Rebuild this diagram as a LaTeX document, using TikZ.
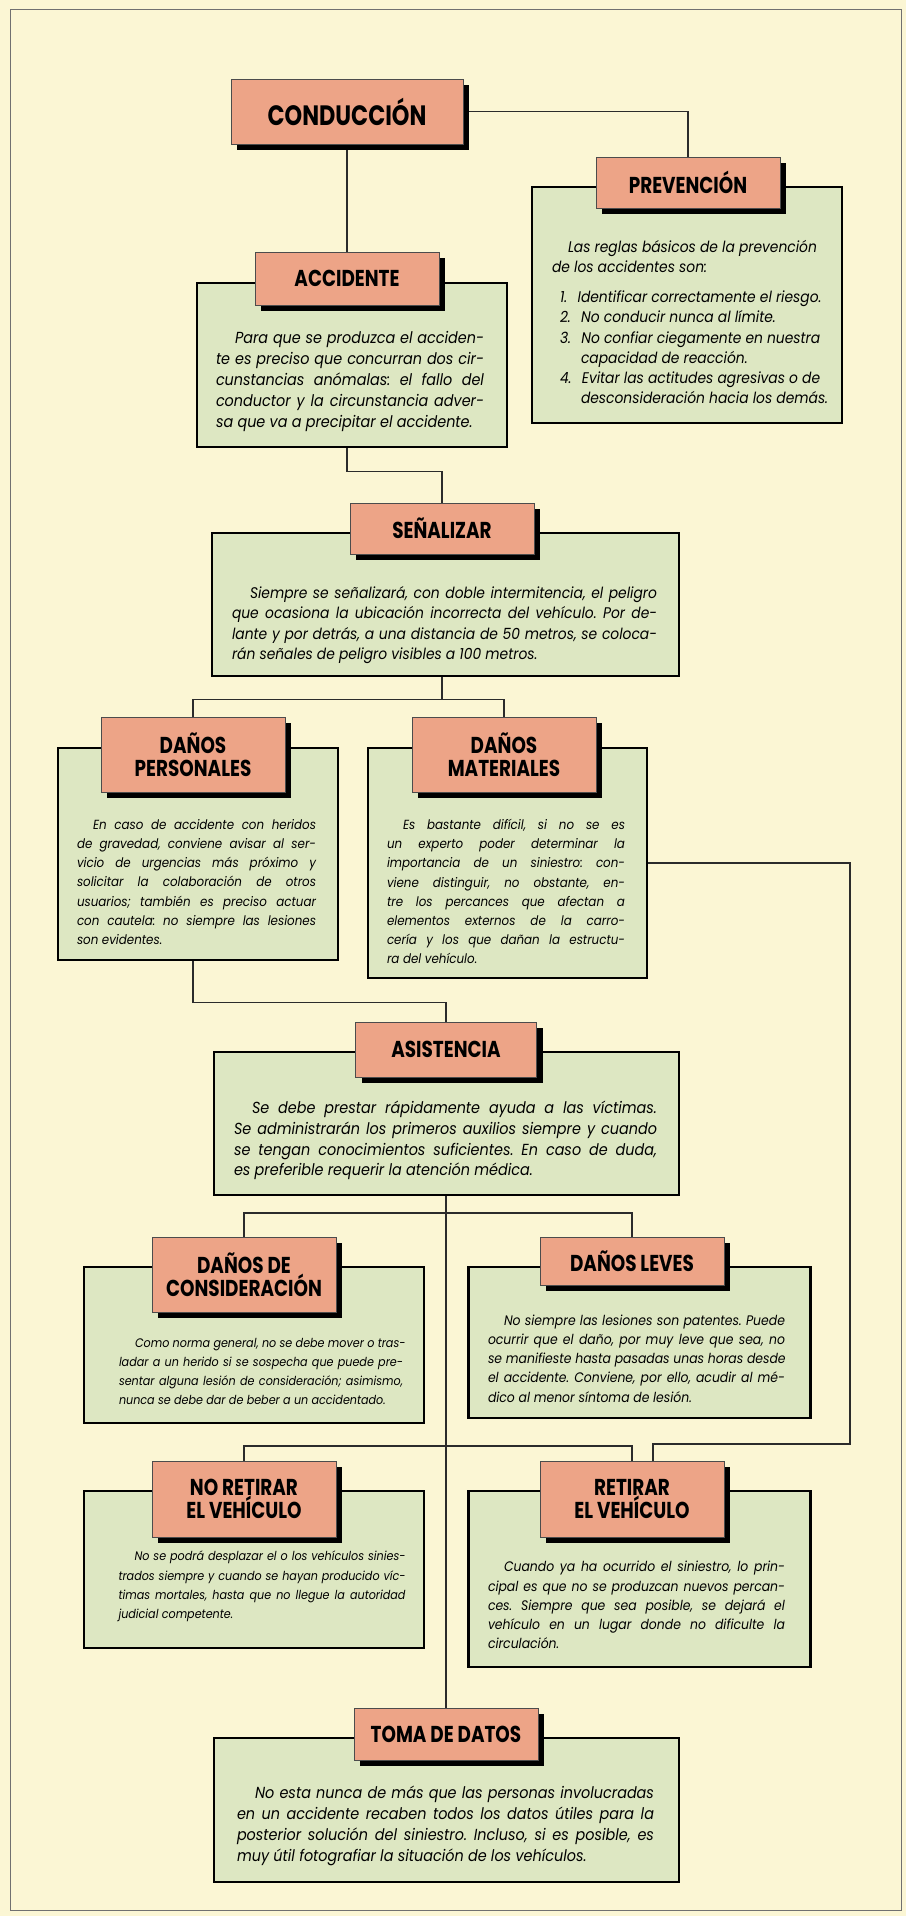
\documentclass[tikz,border=0pt]{standalone}
\usepackage{fontspec}
\usepackage{tikz}
\usetikzlibrary{positioning,shadows,calc}
\newfontfamily\headfont{Poppins}[FakeStretch=0.80]
\newfontfamily\bodyfont{Poppins}[FakeStretch=0.90]
\definecolor{pagecream}{HTML}{FBF6D4}
\definecolor{boxsalmon}{HTML}{EDA487}
\definecolor{panelgreen}{HTML}{DDE7C2}
\definecolor{framegray}{HTML}{707070}
\definecolor{linkgray}{HTML}{2B2B2B}
\pgfdeclarelayer{paper}
\pgfdeclarelayer{wires}
\pgfsetlayers{paper,wires,main}
% one justified line (jline) and one last line (lline) of a panel text
\ExplSyntaxOn
\seq_new:N \l__pan_words_seq
\NewDocumentCommand{\jline}{m}
  {
    \seq_set_split:Nnn \l__pan_words_seq { ~ } {#1}
    \makebox[\hsize][s]{ \seq_use:Nn \l__pan_words_seq { \char32\relax \hskip 0pt plus 1fil\relax } } \\
  }
\NewDocumentCommand{\lline}{m}
  {
    \seq_set_split:Nnn \l__pan_words_seq { ~ } {#1}
    \mbox{ \seq_use:Nn \l__pan_words_seq { \char32\relax } }
  }
\ExplSyntaxOff

\begin{document}
\begin{tikzpicture}[x=1pt, y=-1pt,
  head/.style={draw=black!70, line width=0.6pt, fill=boxsalmon, align=center,
    font=\headfont\bfseries\fontsize{23}{23}\selectfont, inner sep=2pt,
    minimum width=184pt, minimum height=51pt,
    drop shadow={shadow xshift=6pt, shadow yshift=-6pt, fill=black, opacity=1}},
  panel/.style={draw=black, line width=2.4pt, fill=panelgreen, inner sep=0pt},
  bodyL/.style={font=\bodyfont\itshape\frenchspacing\fontsize{16}{20.8}\selectfont, align=left, inner sep=0pt},
  bodyW/.style={bodyL, font=\bodyfont\itshape\frenchspacing\fontsize{15.4}{20.2}\selectfont},
  bodyM/.style={bodyL, font=\bodyfont\itshape\frenchspacing\fontsize{13.8}{19.2}\selectfont},
  bodyS/.style={bodyL, font=\bodyfont\itshape\frenchspacing\fontsize{13.2}{19.2}\selectfont},
  bodyT/.style={bodyL, font=\bodyfont\itshape\frenchspacing\fontsize{12.4}{19.2}\selectfont},
  link/.style={draw=linkgray, line width=1.3pt},
]
\useasboundingbox (0,0) rectangle (906,1916);
\begin{pgfonlayer}{paper}
\fill[pagecream] (0,0) rectangle (906,1916);
\draw[framegray, line width=1pt] (10,10) rectangle (901,1910);
\end{pgfonlayer}

% ── panels ──
\node[panel, minimum width=310pt, minimum height=236pt] (prevpanel) at (687,305) {};
\node[panel, minimum width=310pt, minimum height=164pt] (accpanel) at (352,365) {};
\node[panel, minimum width=467pt, minimum height=143pt] (senpanel) at (445.5,604.5) {};
\node[panel, minimum width=280pt, minimum height=212pt] (perspanel) at (198,854) {};
\node[panel, minimum width=279pt, minimum height=230pt] (matpanel) at (507.5,863) {};
\node[panel, minimum width=465pt, minimum height=143pt] (asispanel) at (446.5,1123.5) {};
\node[panel, minimum width=340pt, minimum height=156pt] (conspanel) at (254,1345) {};
\node[panel, minimum width=342pt, minimum height=151pt] (levpanel) at (639.5,1342.5) {};
\node[panel, minimum width=340pt, minimum height=157pt] (noretpanel) at (254,1569.5) {};
\node[panel, minimum width=342pt, minimum height=176pt] (retpanel) at (639.5,1579) {};
\node[panel, minimum width=465pt, minimum height=144pt] (tomapanel) at (446.5,1810) {};

% ── title boxes ──
\node[head, minimum width=232pt, minimum height=65pt, font=\headfont\bfseries\fontsize{28}{28}\selectfont] (cond) at (347,111.5) {CONDUCCIÓN};
\node[head] (prev) at (688,182.5) {PREVENCIÓN};
\node[head, minimum height=53pt] (acc) at (347,278.5) {ACCIDENTE};
\node[head] (sen) at (442,528.5) {SEÑALIZAR};
\node[head, minimum height=75pt] (pers) at (193,754.5) {DAÑOS\\PERSONALES};
\node[head, minimum height=75pt] (mat) at (504,754.5) {DAÑOS\\MATERIALES};
\node[head, minimum width=181pt, minimum height=55pt] (asis) at (446,1049.5) {ASISTENCIA};
\node[head, minimum height=75pt] (cons) at (244,1274.5) {DAÑOS DE\\CONSIDERACIÓN};
\node[head, minimum height=48pt] (lev) at (632,1261) {DAÑOS LEVES};
\node[head, minimum height=76pt] (noret) at (244,1499) {NO RETIRAR\\EL VEHÍCULO};
\node[head, minimum height=76pt] (ret) at (632,1499) {RETIRAR\\EL VEHÍCULO};
\node[head, minimum height=52pt] (toma) at (446,1734) {TOMA DE DATOS};

% ── connectors ──
\coordinate (rjoin) at (850,1444);
\coordinate (fork2) at (446,1213);
\coordinate (fork3) at (446,1446);
\begin{pgfonlayer}{wires}
\draw[link] (cond.east) -| (prev.north);
\draw[link] (cond.south) -- (acc.north);
\draw[link] (acc.south |- accpanel.south) -- ++(0,23) -| (sen.north);
\draw[link] (sen.south |- senpanel.south) -- ++(0,22) coordinate (fork1);
\draw[link] (pers.north) |- (fork1) -| (mat.north);
\draw[link] (pers.south |- perspanel.south) -- ++(0,41) -| (asis.north);
\draw[link] (matpanel.east) -| (rjoin) -| ([xshift=21pt]ret.north);
\draw[link] (asis.south |- asispanel.south) -- (toma.north);
\draw[link] (cons.north) |- (fork2) -| (lev.north);
\draw[link] (noret.north) |- (fork3) -| (ret.north);
\end{pgfonlayer}

% ── texts ──
\node[bodyW, text width=267pt] (prevtext) at (685.5,322) {%
  \lline{\hspace*{16pt}Las reglas básicos de la prevención}\\
  \lline{de los accidentes son:}\\[10pt]
  \lline{\hspace*{8pt}1.\ \ Identificar correctamente el riesgo.}\\
  \lline{\hspace*{8pt}2.\ \ No conducir nunca al límite.}\\
  \lline{\hspace*{8pt}3.\ \ No confiar ciegamente en nuestra}\\
  \lline{\hspace*{29pt}capacidad de reacción.}\\
  \lline{\hspace*{8pt}4.\ \ Evitar las actitudes agresivas o de}\\
  \lline{\hspace*{29pt}desconsideración hacia los demás.}};
\node[bodyL, text width=268pt] (acctext) at (350,381.5) {%
  \jline{\hspace*{19pt}Para que se produzca el acciden-}
  \jline{te es preciso que concurran dos cir-}
  \jline{cunstancias anómalas: el fallo del}
  \jline{conductor y la circunstancia adver-}
  \lline{sa que va a precipitar el accidente.}};
\node[bodyW, text width=425pt] (sentext) at (444.5,625) {%
  \jline{\hspace*{18pt}Siempre se señalizará, con doble intermitencia, el peligro}
  \jline{que ocasiona la ubicación incorrecta del vehículo. Por de-}
  \jline{lante y por detrás, a una distancia de 50 metros, se coloca-}
  \lline{rán señales de peligro visibles a 100 metros.}};
\node[bodyS, text width=239pt] (perstext) at (196.5,882) {%
  \jline{\hspace*{16pt}En caso de accidente con heridos}
  \jline{de gravedad, conviene avisar al ser-}
  \jline{vicio de urgencias más próximo y}
  \jline{solicitar la colaboración de otros}
  \jline{usuarios; también es preciso actuar}
  \jline{con cautela: no siempre las lesiones}
  \lline{son evidentes.}};
\node[bodyS, text width=238pt] (mattext) at (506,891.5) {%
  \jline{\hspace*{16pt}Es bastante difícil, si no se es}
  \jline{un experto poder determinar la}
  \jline{importancia de un siniestro: con-}
  \jline{viene distinguir, no obstante, en-}
  \jline{tre los percances que afectan a}
  \jline{elementos externos de la carro-}
  \jline{cería y los que dañan la estructu-}
  \lline{ra del vehículo.}};
\node[bodyL, text width=423pt] (asistext) at (445.5,1140.5) {%
  \jline{\hspace*{18pt}Se debe prestar rápidamente ayuda a las víctimas.}
  \jline{Se administrarán los primeros auxilios siempre y cuando}
  \jline{se tengan conocimientos suficientes. En caso de duda,}
  \lline{es preferible requerir la atención médica.}};
\node[bodyT, text width=284pt] (constext) at (261,1371.5) {%
  \jline{\hspace*{16pt}Como norma general, no se debe mover o tras-}
  \jline{ladar a un herido si se sospecha que puede pre-}
  \jline{sentar alguna lesión de consideración; asimismo,}
  \lline{nunca se debe dar de beber a un accidentado.}};
\node[bodyM, text width=297pt] (levtext) at (636.5,1358.5) {%
  \jline{\hspace*{16pt}No siempre las lesiones son patentes. Puede}
  \jline{ocurrir que el daño, por muy leve que sea, no}
  \jline{se manifieste hasta pasadas unas horas desde}
  \jline{el accidente. Conviene, por ello, acudir al mé-}
  \lline{dico al menor síntoma de lesión.}};
\node[bodyT, text width=287pt] (noretext) at (262,1586.5) {%
  \jline{\hspace*{16pt}No se podrá desplazar el o los vehículos sinies-}
  \jline{trados siempre y cuando se hayan producido víc-}
  \jline{timas mortales, hasta que no llegue la autoridad}
  \lline{judicial competente.}};
\node[bodyM, text width=297pt] (rettext) at (636.5,1605) {%
  \jline{\hspace*{16pt}Cuando ya ha ocurrido el siniestro, lo prin-}
  \jline{cipal es que no se produzcan nuevos percan-}
  \jline{ces. Siempre que sea posible, se dejará el}
  \jline{vehículo en un lugar donde no dificulte la}
  \lline{circulación.}};
\node[bodyL, text width=417pt] (tomatext) at (445.5,1826) {%
  \jline{\hspace*{18pt}No esta nunca de más que las personas involucradas}
  \jline{en un accidente recaben todos los datos útiles para la}
  \jline{posterior solución del siniestro. Incluso, si es posible, es}
  \lline{muy útil fotografiar la situación de los vehículos.}};
\end{tikzpicture}
\end{document}
